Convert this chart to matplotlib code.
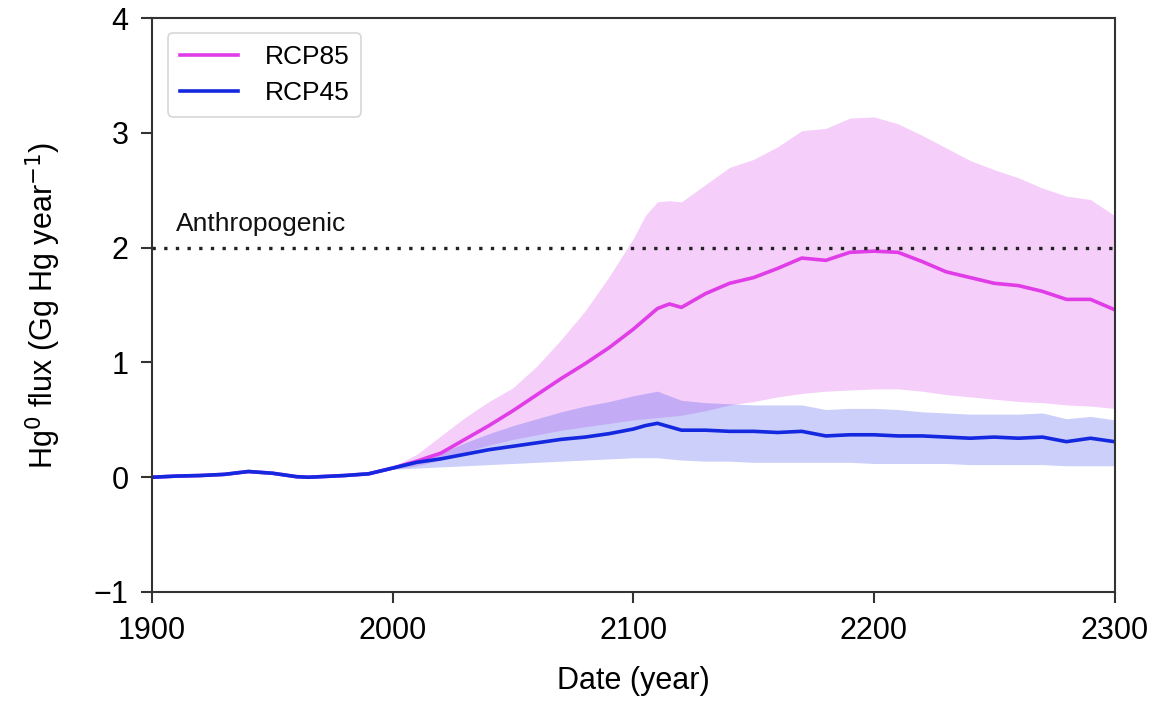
import matplotlib
matplotlib.use('Agg')
import matplotlib.pyplot as plt
import numpy as np

plt.rcParams['font.family'] = ['Liberation Sans', 'DejaVu Sans']

# values
years = [1900, 1910, 1920, 1930, 1940, 1950, 1960, 1965, 1970, 1980, 1990, 2000,
         2010, 2020, 2030, 2040, 2050, 2060, 2070, 2080, 2090, 2100, 2105, 2110,
         2115, 2120, 2130, 2140, 2150, 2160, 2170, 2180, 2190, 2200, 2210, 2220,
         2230, 2240, 2250, 2260, 2270, 2280, 2290, 2300]

rcp45_mean = [0.0, 0.01, 0.015, 0.025, 0.05, 0.035, 0.005, 0.0, 0.005, 0.015, 0.03, 0.08,
              0.13, 0.16, 0.20, 0.24, 0.27, 0.30, 0.33, 0.35, 0.38, 0.42, 0.45, 0.47,
              0.44, 0.41, 0.41, 0.40, 0.40, 0.39, 0.40, 0.36, 0.37, 0.37, 0.36, 0.36,
              0.35, 0.34, 0.35, 0.34, 0.35, 0.31, 0.34, 0.31]
rcp45_high = [0.01, 0.02, 0.025, 0.035, 0.06, 0.045, 0.015, 0.01, 0.015, 0.025, 0.04, 0.09,
              0.15, 0.21, 0.30, 0.38, 0.45, 0.51, 0.57, 0.62, 0.66, 0.71, 0.73, 0.75,
              0.71, 0.67, 0.65, 0.64, 0.63, 0.63, 0.63, 0.59, 0.60, 0.60, 0.59, 0.57,
              0.56, 0.55, 0.55, 0.55, 0.56, 0.51, 0.53, 0.50]
rcp45_low = [-0.01, 0.0, 0.005, 0.015, 0.04, 0.025, -0.005, -0.01, -0.005, 0.005, 0.02, 0.07,
             0.08, 0.09, 0.10, 0.11, 0.12, 0.13, 0.14, 0.15, 0.16, 0.17, 0.17, 0.17,
             0.16, 0.15, 0.14, 0.14, 0.13, 0.13, 0.13, 0.13, 0.13, 0.12, 0.12, 0.12,
             0.12, 0.11, 0.11, 0.11, 0.11, 0.10, 0.10, 0.10]

rcp85_mean = [0.0, 0.01, 0.015, 0.025, 0.05, 0.035, 0.005, 0.0, 0.005, 0.015, 0.03, 0.08,
              0.14, 0.21, 0.33, 0.45, 0.58, 0.72, 0.86, 0.99, 1.13, 1.29, 1.38, 1.47,
              1.51, 1.48, 1.60, 1.69, 1.74, 1.82, 1.91, 1.89, 1.96, 1.97, 1.96, 1.88,
              1.79, 1.74, 1.69, 1.67, 1.62, 1.55, 1.55, 1.46]
rcp85_high = [0.01, 0.02, 0.025, 0.035, 0.06, 0.045, 0.015, 0.01, 0.015, 0.025, 0.04, 0.09,
              0.20, 0.36, 0.52, 0.66, 0.78, 0.97, 1.20, 1.45, 1.75, 2.08, 2.28, 2.40,
              2.41, 2.40, 2.55, 2.70, 2.77, 2.88, 3.02, 3.04, 3.13, 3.14, 3.08, 2.98,
              2.87, 2.76, 2.68, 2.61, 2.52, 2.45, 2.42, 2.28]
rcp85_low = [-0.01, 0.0, 0.005, 0.015, 0.04, 0.025, -0.005, -0.01, -0.005, 0.005, 0.02, 0.07,
             0.10, 0.15, 0.22, 0.28, 0.33, 0.37, 0.41, 0.44, 0.47, 0.50, 0.51, 0.52,
             0.53, 0.54, 0.58, 0.63, 0.66, 0.70, 0.73, 0.75, 0.76, 0.77, 0.77, 0.75,
             0.72, 0.70, 0.68, 0.66, 0.65, 0.63, 0.62, 0.60]

anthropogenic = 2.0

pink = '#E03CE8'
blue = '#1428E0'

fig = plt.figure(figsize=(11.61, 7.01), dpi=100)
ax = fig.add_axes([0.131, 0.1555, 0.829, 0.8185])

ax.fill_between(years, rcp85_low, rcp85_high, color='#E060F0', alpha=0.3, lw=0)
ax.fill_between(years, rcp45_low, rcp45_high, color='#3040E8', alpha=0.25, lw=0)
ax.plot(years, rcp85_mean, color=pink, lw=2.6, label='RCP85')
ax.plot(years, rcp45_mean, color=blue, lw=2.6, label='RCP45')

ax.axhline(anthropogenic, color='#222222', lw=2.4, linestyle=(0, (1, 2.5)))
ax.text(1910, 2.1, 'Anthropogenic', fontsize=19, va='bottom', ha='left', color='#111111')

ax.set_xlim(1900, 2300)
ax.set_ylim(-1, 4)
ax.set_xticks([1900, 2000, 2100, 2200, 2300])
ax.set_yticks([-1, 0, 1, 2, 3, 4])
ax.set_yticklabels(['\u22121', '0', '1', '2', '3', '4'])
ax.tick_params(axis='both', labelsize=22, length=8, width=1.5, direction='out',
               colors='#333333', labelcolor='black')
ax.tick_params(axis='x', pad=9)
ax.tick_params(axis='y', pad=9)
for s in ax.spines.values():
    s.set_linewidth(1.5)
    s.set_color('#333333')

ax.set_xlabel('Date (year)', fontsize=22, labelpad=15)
ax.set_ylabel('Hg$^0$ flux (Gg Hg year$^{-1}$)', fontsize=22, labelpad=22)

leg = ax.legend(loc='upper left', fontsize=19, handlelength=2.2, frameon=True,
                borderpad=0.45, labelspacing=0.45, handletextpad=1.0,
                bbox_to_anchor=(0.003, 0.997))
leg.get_frame().set_edgecolor('#cccccc')
leg.get_frame().set_linewidth(1.2)

fig.savefig('out.png', dpi=100)
